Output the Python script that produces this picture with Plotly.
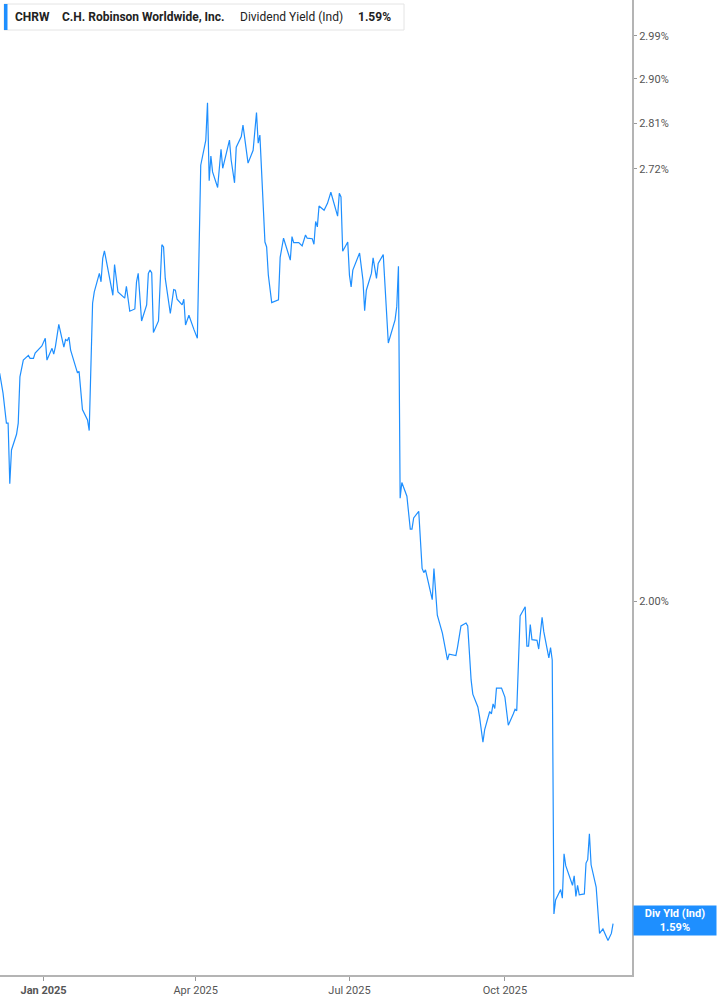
import math
import plotly.graph_objects as go

# CHRW dividend yield (indicated)
dates = [
    "2024-12-06", "2024-12-08", "2024-12-10", "2024-12-11", "2024-12-12", "2024-12-13",
    "2024-12-16", "2024-12-17", "2024-12-18", "2024-12-20", "2024-12-23", "2024-12-24",
    "2024-12-26", "2024-12-27", "2024-12-31",
    "2025-01-02", "2025-01-03", "2025-01-06", "2025-01-07", "2025-01-08", "2025-01-10",
    "2025-01-13", "2025-01-14", "2025-01-15", "2025-01-16", "2025-01-17", "2025-01-21",
    "2025-01-22", "2025-01-24", "2025-01-27", "2025-01-28", "2025-01-30", "2025-01-31",
    "2025-02-03", "2025-02-04", "2025-02-05", "2025-02-06", "2025-02-09", "2025-02-11",
    "2025-02-12", "2025-02-14", "2025-02-18", "2025-02-19", "2025-02-21", "2025-02-24",
    "2025-02-25", "2025-02-26", "2025-02-28",
    "2025-03-03", "2025-03-04", "2025-03-05", "2025-03-06", "2025-03-07", "2025-03-10",
    "2025-03-12", "2025-03-13", "2025-03-14", "2025-03-17", "2025-03-19", "2025-03-20",
    "2025-03-21", "2025-03-24", "2025-03-25", "2025-03-26", "2025-03-28", "2025-03-31",
    "2025-04-02", "2025-04-04", "2025-04-07", "2025-04-08", "2025-04-09", "2025-04-10",
    "2025-04-11", "2025-04-14", "2025-04-16", "2025-04-17", "2025-04-21", "2025-04-22",
    "2025-04-24", "2025-04-25", "2025-04-28", "2025-04-29",
    "2025-05-02", "2025-05-05", "2025-05-07", "2025-05-08", "2025-05-09", "2025-05-12",
    "2025-05-13", "2025-05-14", "2025-05-16", "2025-05-20", "2025-05-21", "2025-05-23",
    "2025-05-27", "2025-05-28", "2025-05-29",
    "2025-06-01", "2025-06-03", "2025-06-05", "2025-06-06", "2025-06-09", "2025-06-10",
    "2025-06-11", "2025-06-12", "2025-06-13", "2025-06-16", "2025-06-18", "2025-06-20",
    "2025-06-24", "2025-06-25", "2025-06-26", "2025-06-27", "2025-06-30",
    "2025-07-01", "2025-07-02", "2025-07-03", "2025-07-07", "2025-07-09", "2025-07-10",
    "2025-07-11", "2025-07-14", "2025-07-15", "2025-07-17", "2025-07-18", "2025-07-21",
    "2025-07-24", "2025-07-28", "2025-07-29", "2025-07-30", "2025-07-31",
    "2025-08-01", "2025-08-04", "2025-08-06", "2025-08-07", "2025-08-08", "2025-08-11",
    "2025-08-13", "2025-08-14", "2025-08-15", "2025-08-19", "2025-08-20", "2025-08-22",
    "2025-08-25", "2025-08-28", "2025-08-29",
    "2025-09-02", "2025-09-03", "2025-09-05", "2025-09-08", "2025-09-09", "2025-09-11",
    "2025-09-12", "2025-09-15", "2025-09-16", "2025-09-18", "2025-09-19", "2025-09-22",
    "2025-09-23", "2025-09-24", "2025-09-25", "2025-09-26", "2025-09-29",
    "2025-10-01", "2025-10-03", "2025-10-06", "2025-10-07", "2025-10-08", "2025-10-10",
    "2025-10-13", "2025-10-14", "2025-10-15", "2025-10-16", "2025-10-17", "2025-10-20",
    "2025-10-21", "2025-10-23", "2025-10-24", "2025-10-27", "2025-10-28", "2025-10-29",
    "2025-10-30", "2025-10-31",
    "2025-11-03", "2025-11-04", "2025-11-05", "2025-11-06", "2025-11-10", "2025-11-11",
    "2025-11-12", "2025-11-13", "2025-11-14", "2025-11-17", "2025-11-18", "2025-11-19",
    "2025-11-20", "2025-11-21", "2025-11-24", "2025-11-26", "2025-11-28",
    "2025-12-01", "2025-12-03", "2025-12-04",
]

div_yield = [
    2.352, 2.319, 2.270, 2.270, 2.174, 2.227,
    2.252, 2.270, 2.346, 2.374, 2.382, 2.377,
    2.377, 2.386, 2.398,
    2.411, 2.374, 2.394, 2.384, 2.397, 2.435,
    2.396, 2.409, 2.407, 2.413, 2.391, 2.353,
    2.355, 2.292, 2.275, 2.258, 2.472, 2.492,
    2.525, 2.510, 2.552, 2.566, 2.513, 2.486,
    2.541, 2.492, 2.481, 2.502, 2.458, 2.462,
    2.510, 2.525, 2.441,
    2.469, 2.525, 2.531, 2.526, 2.421, 2.441,
    2.577, 2.573, 2.516, 2.454, 2.496, 2.495,
    2.479, 2.469, 2.479, 2.434, 2.451, 2.426,
    2.411, 2.727, 2.776, 2.851, 2.697, 2.745,
    2.714, 2.684, 2.758, 2.721, 2.776, 2.737,
    2.693, 2.762, 2.783, 2.806,
    2.731, 2.756, 2.831, 2.770, 2.786, 2.582,
    2.573, 2.522, 2.473, 2.478, 2.554, 2.589,
    2.549, 2.592, 2.581,
    2.581, 2.575, 2.595, 2.589, 2.588, 2.578,
    2.620, 2.610, 2.649, 2.641, 2.654, 2.675,
    2.630, 2.673, 2.666, 2.565, 2.582,
    2.522, 2.501, 2.531, 2.562, 2.513, 2.459,
    2.495, 2.525, 2.553, 2.516, 2.543, 2.559,
    2.403, 2.443, 2.466, 2.538, 2.152,
    2.176, 2.155, 2.105, 2.105, 2.122, 2.132,
    2.047, 2.041, 2.045, 2.002, 2.047, 1.980,
    1.955, 1.918, 1.926,
    1.924, 1.936, 1.965, 1.969, 1.965, 1.891,
    1.872, 1.855, 1.842, 1.809, 1.825, 1.849,
    1.846, 1.859, 1.853, 1.880, 1.880,
    1.868, 1.831, 1.846, 1.852, 1.850, 1.979,
    1.992, 1.937, 1.937, 1.967, 1.946, 1.945,
    1.933, 1.977, 1.957, 1.921, 1.935, 1.918,
    1.601, 1.617,
    1.629, 1.619, 1.671, 1.657, 1.634, 1.645,
    1.621, 1.634, 1.623, 1.624, 1.660, 1.664,
    1.695, 1.658, 1.632, 1.579, 1.584,
    1.571, 1.579, 1.59,
]

y_ticks = [2.00, 2.72, 2.81, 2.90, 2.99]
y_tick_text = ["2.00%", "2.72%", "2.81%", "2.90%", "2.99%"]
x_ticks = ["2025-01-01", "2025-04-01", "2025-07-01", "2025-10-01"]
x_tick_text = ["<b>Jan 2025</b>", "Apr 2025", "Jul 2025", "Oct 2025"]

last_value = div_yield[-1]
BLUE = "#1e8fff"
FONT = "Roboto, Arial, sans-serif"

fig = go.Figure()
fig.add_trace(go.Scatter(
    x=dates, y=div_yield, mode="lines",
    line=dict(color=BLUE, width=1.2),
    hoverinfo="skip", showlegend=False,
))

# plot area is 632 x 975 px, used to place the header box
W, H = 632, 975


def px(x):
    return x / W


def py(y):
    return (H - y) / H


fig.add_shape(type="rect", xref="paper", yref="paper",
              x0=px(4), x1=px(404), y0=py(30), y1=py(4),
              line=dict(color="#e4e4e4", width=1), fillcolor="white")
fig.add_shape(type="rect", xref="paper", yref="paper",
              x0=px(4), x1=px(7.5), y0=py(30), y1=py(4),
              line=dict(width=0), fillcolor=BLUE)

header = [
    (13, "<b>CHRW</b>"),
    (60, "<b>C.H. Robinson Worldwide, Inc.</b>"),
    (238, "Dividend Yield (Ind)"),
    (356, "<b>%.2f%%</b>" % last_value),
]
for xpos, txt in header:
    fig.add_annotation(x=px(xpos), y=py(17), xref="paper", yref="paper",
                       text=txt, showarrow=False, xanchor="left", yanchor="middle",
                       font=dict(family=FONT, size=12, color="#222222"))

# last value label on the right axis
fig.add_annotation(
    x=1.0015, xref="paper", y=math.log10(last_value), yref="y", yshift=3,
    text="<b>Div Yld (Ind)</b><br><b>%.2f%%</b>" % last_value,
    showarrow=False, xanchor="left", yanchor="middle",
    width=80, height=27, bgcolor=BLUE, borderpad=1,
    font=dict(family=FONT, size=11, color="white"), align="center",
)

fig.update_layout(
    width=717, height=1005,
    margin=dict(l=0, r=85, t=0, b=30),
    paper_bgcolor="white", plot_bgcolor="white",
    font=dict(family=FONT, size=11, color="#555555"),
    xaxis=dict(
        type="date",
        range=["2024-12-06 05:00", "2025-12-15 05:00"],
        tickvals=x_ticks, ticktext=x_tick_text,
        ticks="outside", ticklen=4, tickcolor="#999999",
        showline=True, linecolor="#b4b4b4", linewidth=2,
        showgrid=False, zeroline=False,
        tickfont=dict(family=FONT, size=11, color="#555555"),
    ),
    yaxis=dict(
        type="log", side="right",
        range=[math.log10(1.533), math.log10(3.067)],
        tickvals=y_ticks, ticktext=y_tick_text,
        ticks="outside", ticklen=3, tickcolor="#999999",
        showline=True, linecolor="#b4b4b4", linewidth=2,
        showgrid=False, zeroline=False,
        tickfont=dict(family=FONT, size=11, color="#555555"),
    ),
)

# the page has a default 8px body margin, drop it so the figure fills the window
fig.write_html("out.html", config={"displayModeBar": False},
               post_script="document.body.style.margin='0';document.body.style.overflow='hidden';")
